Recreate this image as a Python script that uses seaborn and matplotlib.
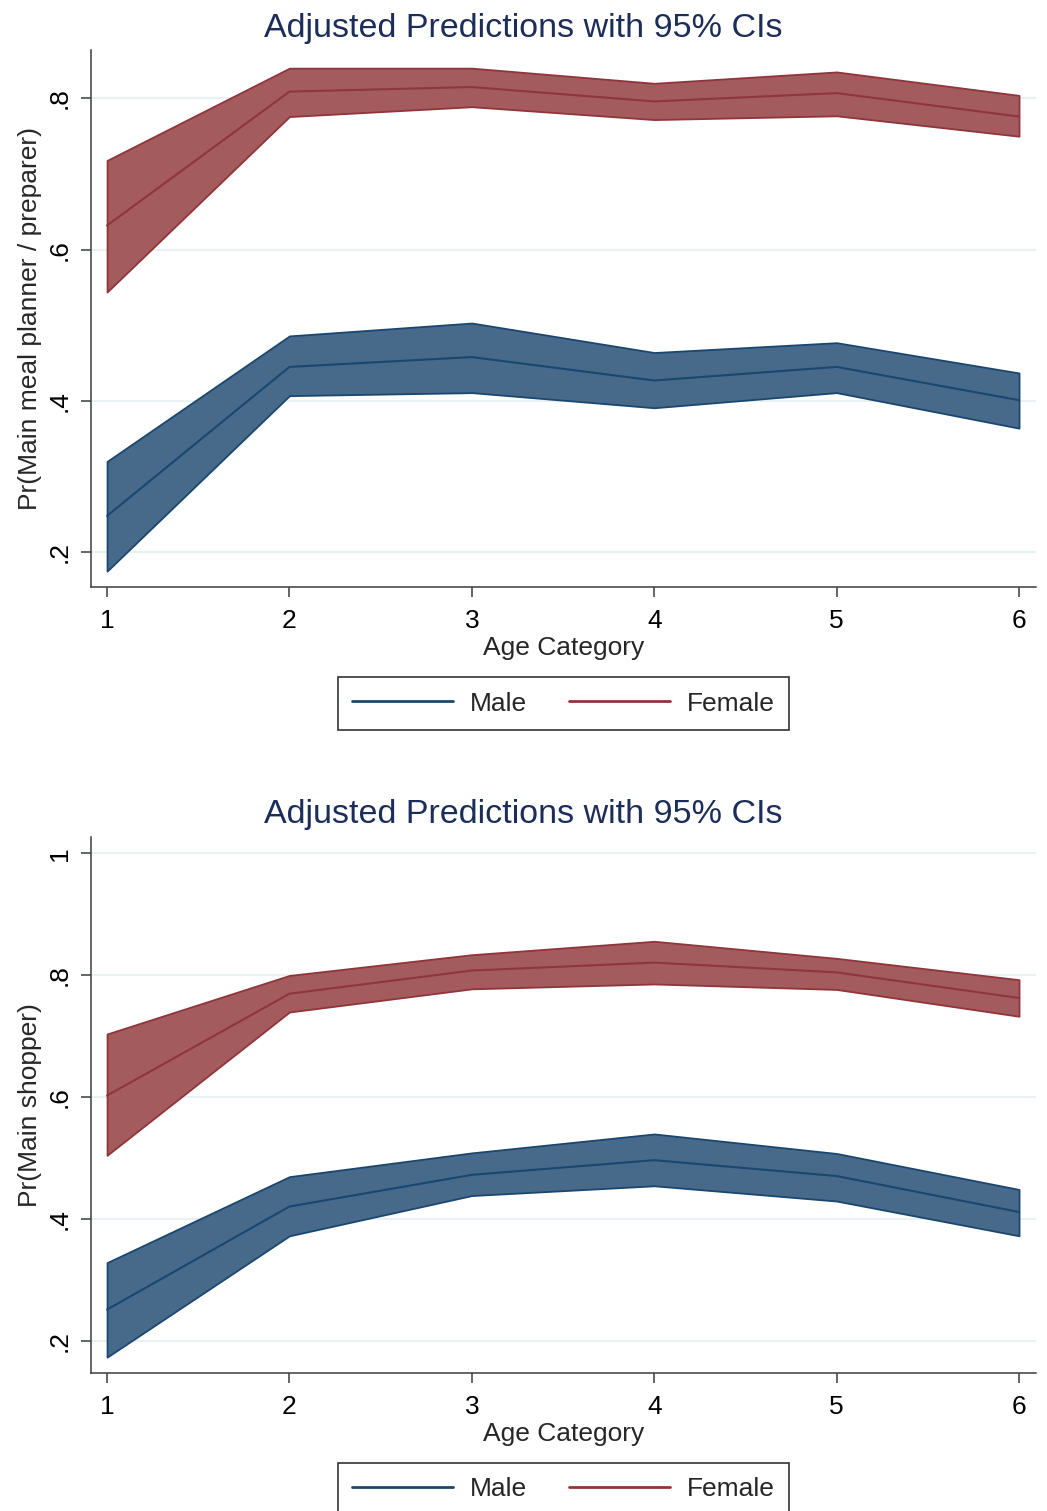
import matplotlib
matplotlib.use("Agg")
import pandas as pd
import seaborn as sns
from matplotlib import pyplot as plt
from matplotlib.lines import Line2D
from matplotlib.ticker import FuncFormatter

# ---- data (Stata margins plot) ----
age = [1, 2, 3, 4, 5, 6]

# panel 1: Pr(Main meal planner / preparer)
meal_male = [0.248, 0.445, 0.458, 0.427, 0.445, 0.401]
meal_male_lo = [0.175, 0.407, 0.411, 0.391, 0.411, 0.364]
meal_male_hi = [0.320, 0.486, 0.503, 0.464, 0.477, 0.437]
meal_female = [0.632, 0.809, 0.815, 0.796, 0.807, 0.776]
meal_female_lo = [0.544, 0.776, 0.789, 0.772, 0.777, 0.750]
meal_female_hi = [0.718, 0.840, 0.840, 0.820, 0.835, 0.804]

# panel 2: Pr(Main shopper)
shop_male = [0.252, 0.421, 0.473, 0.497, 0.471, 0.412]
shop_male_lo = [0.174, 0.373, 0.439, 0.455, 0.430, 0.373]
shop_male_hi = [0.329, 0.470, 0.509, 0.540, 0.508, 0.449]
shop_female = [0.603, 0.770, 0.808, 0.821, 0.805, 0.763]
shop_female_lo = [0.505, 0.740, 0.778, 0.786, 0.777, 0.733]
shop_female_hi = [0.704, 0.800, 0.834, 0.856, 0.828, 0.793]

groups = ["Male", "Female"]
title = "Adjusted Predictions with 95% CIs"
xlabel = "Age Category"
ylabels = ["Pr(Main meal planner / preparer)", "Pr(Main shopper)"]

line_colors = {"Male": "#1a476f", "Female": "#90353b"}
fill_colors = {"Male": "#486a8a", "Female": "#a35b5e"}

sns.set_style("white")
plt.rcParams["font.family"] = ["Liberation Sans", "DejaVu Sans"]
FS = 19


def make_frame(male, male_lo, male_hi, female, female_lo, female_hi):
    rows = []
    for g, m, lo, hi in [("Male", male, male_lo, male_hi),
                         ("Female", female, female_lo, female_hi)]:
        for a, v, l, h in zip(age, m, lo, hi):
            rows.append({"age": a, "pred": v, "lo": l, "hi": h, "sex": g})
    return pd.DataFrame(rows)


def stata_fmt(v, pos):
    s = ("%g" % round(v, 2))
    return s[1:] if s.startswith("0.") else s


def draw_panel(ax, df, ylabel, yticks, ylim):
    for g in groups:
        sub = df[df["sex"] == g]
        ax.fill_between(sub["age"], sub["lo"], sub["hi"], facecolor=fill_colors[g],
                        edgecolor=line_colors[g], linewidth=1.3, zorder=2)
    sns.lineplot(data=df, x="age", y="pred", hue="sex", hue_order=groups,
                 palette=line_colors, linewidth=1.5, legend=False, ax=ax, zorder=3)

    ax.set_xlim(0.912, 6.093)
    ax.set_ylim(*ylim)
    ax.set_xticks(age)
    ax.set_yticks(yticks)
    ax.yaxis.set_major_formatter(FuncFormatter(stata_fmt))
    ax.grid(axis="y", color="#e9f1f3", linewidth=1.5, zorder=0)
    ax.grid(axis="x", visible=False)
    for side in ["top", "right"]:
        ax.spines[side].set_visible(False)
    for side in ["left", "bottom"]:
        ax.spines[side].set_color("#3c3c3c")
        ax.spines[side].set_linewidth(1.1)
    ax.tick_params(axis="both", direction="out", length=7, width=1.1, color="#3c3c3c",
                   labelsize=FS, labelcolor="black", left=True, bottom=True)
    ax.tick_params(axis="x", pad=9)
    ax.tick_params(axis="y", pad=7)
    for lab in ax.get_yticklabels():
        lab.set_rotation(90)
        lab.set_va("center")
    ax.set_xlabel(xlabel, fontsize=FS, labelpad=2)
    ax.set_ylabel(ylabel, fontsize=FS, labelpad=4)

    handles = [Line2D([0], [0], color=line_colors[g], linewidth=2.0) for g in groups]
    leg = ax.legend(handles, groups, loc="upper center", bbox_to_anchor=(0.5, -0.1676),
                    ncol=2, frameon=True, fancybox=False, fontsize=FS, borderaxespad=0,
                    borderpad=0.55, handlelength=3.8, handletextpad=0.65, columnspacing=1.6)
    leg.get_frame().set_edgecolor("black")
    leg.get_frame().set_linewidth(1.2)


fig = plt.figure(figsize=(10.47, 15.11), dpi=100)
W, H = 1047, 1511
ax1 = fig.add_axes([91 / W, 1 - 587 / H, 945 / W, 537 / H])
ax2 = fig.add_axes([91 / W, 1 - 1373 / H, 945 / W, 536 / H])

df_meal = make_frame(meal_male, meal_male_lo, meal_male_hi,
                     meal_female, meal_female_lo, meal_female_hi)
df_shop = make_frame(shop_male, shop_male_lo, shop_male_hi,
                     shop_female, shop_female_lo, shop_female_hi)

draw_panel(ax1, df_meal, ylabels[0], [0.2, 0.4, 0.6, 0.8], (0.154, 0.864))
draw_panel(ax2, df_shop, ylabels[1], [0.2, 0.4, 0.6, 0.8, 1.0], (0.148, 1.027))

fig.text(0.5, 1 - 37 / H, title, ha="center", va="baseline", fontsize=24.5, color="#1c2d5a")
fig.text(0.5, 1 - 823 / H, title, ha="center", va="baseline", fontsize=24.5, color="#1c2d5a")

fig.savefig("out.png", dpi=100, facecolor="white")
